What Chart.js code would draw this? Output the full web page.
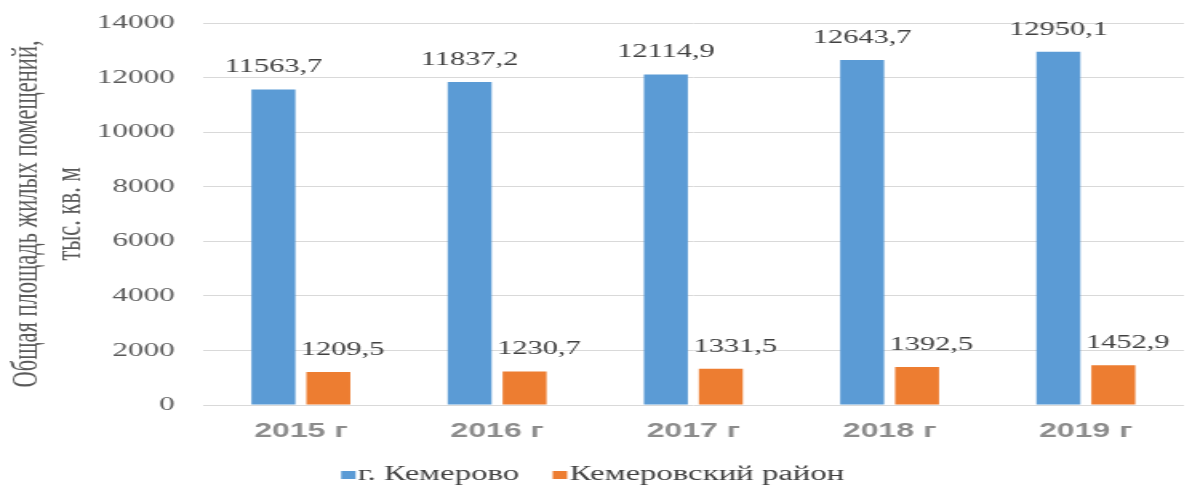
<!DOCTYPE html>
<html lang="ru">
<head>
<meta charset="utf-8">
<title>Общая площадь жилых помещений</title>
<script src="https://cdn.jsdelivr.net/npm/chart.js@4/dist/chart.umd.min.js"></script>
<style>
    html, body { margin: 0; padding: 0; background: #fff; overflow: hidden; }
    /* the chart is laid out narrow and widened, so the lettering comes out stretched */
    #wrap { width: 741px; height: 488px; transform: scaleX(1.6); transform-origin: 0 0; }
</style>
</head>
<body>
<div id="wrap"><canvas id="areaChart" width="741" height="488"></canvas></div>
<script>
const years = ['2015 г', '2016 г', '2017 г', '2018 г', '2019 г'];
const kemerovoCity = [11563.7, 11837.2, 12114.9, 12643.7, 12950.1];
const kemerovoDistrict = [1209.5, 1230.7, 1331.5, 1392.5, 1452.9];
const yMax = 14000;
const yStep = 2000;

// numbers over the bars, with a comma as decimal separator
const valueLabels = {
    id: 'valueLabels',
    afterDatasetsDraw(chart) {
        const ctx = chart.ctx;
        ctx.save();
        ctx.font = '19px "Liberation Serif"';
        ctx.fillStyle = '#404040';
        ctx.textAlign = 'center';
        ctx.textBaseline = 'alphabetic';
        chart.data.datasets.forEach((ds, i) => {
            const meta = chart.getDatasetMeta(i);
            meta.data.forEach((bar, j) => {
                const txt = ds.data[j].toFixed(1).replace('.', ',');
                const shift = i === 1 ? 9 : 0;
                ctx.fillText(txt, bar.x + shift, bar.y - 17);
            });
        });
        ctx.restore();
    }
};

// legend with the small square sitting right next to its text
const bottomLegend = {
    id: 'bottomLegend',
    afterDraw(chart) {
        const ctx = chart.ctx;
        const box = 9, gap = 1.5, spacing = 21;
        ctx.save();
        ctx.font = '20.5px "Liberation Serif"';
        ctx.textBaseline = 'middle';
        ctx.textAlign = 'left';
        const items = chart.data.datasets.map(ds => ({
            text: ds.label,
            color: ds.backgroundColor,
            w: ctx.measureText(ds.label).width
        }));
        const total = items.reduce((s, it) => s + box + gap + it.w, 0) + spacing * (items.length - 1);
        let x = (chart.width - total) / 2;
        const y = chart.height - 13;
        items.forEach(it => {
            ctx.fillStyle = it.color;
            ctx.fillRect(x, y - 4, box, 8);
            x += box + gap;
            ctx.fillStyle = '#404040';
            ctx.fillText(it.text, x, y);
            x += it.w + spacing;
        });
        ctx.restore();
    }
};

document.addEventListener('DOMContentLoaded', function() {
    const ctx = document.getElementById('areaChart');
    new Chart(ctx, {
        type: 'bar',
        data: {
            labels: years,
            datasets: [{
                label: 'г. Кемерово',
                data: kemerovoCity,
                backgroundColor: '#5b9bd5',
                barPercentage: 0.8,
                categoryPercentage: 0.56
            }, {
                label: 'Кемеровский район',
                data: kemerovoDistrict,
                backgroundColor: '#ed7d31',
                barPercentage: 0.8,
                categoryPercentage: 0.56
            }]
        },
        options: {
            responsive: false,
            animation: false,
            devicePixelRatio: 1,
            layout: { padding: { left: 4, right: 1, top: 0, bottom: 0 } },
            plugins: {
                tooltip: { enabled: false },
                legend: { display: false }
            },
            scales: {
                x: {
                    grid: { display: false, drawTicks: false },
                    border: { display: false },
                    ticks: {
                        font: { family: '"Liberation Sans"', size: 20, weight: 'bold' },
                        color: '#8c8c8c',
                        padding: 14
                    },
                    // leave room underneath for the legend
                    afterFit(scale) { scale.height = 83; }
                },
                y: {
                    min: 0,
                    max: yMax,
                    ticks: {
                        stepSize: yStep,
                        callback: (v) => String(v),
                        font: { family: '"Liberation Serif"', size: 19.5 },
                        color: '#595959',
                        padding: 17.5
                    },
                    grid: { color: '#d9d9d9', lineWidth: 1, drawTicks: false },
                    border: { display: false },
                    title: {
                        display: true,
                        text: ['Общая площадь жилых помещений,', 'тыс. кв. м'],
                        font: { family: '"Liberation Serif"', size: 22.5 },
                        color: '#595959',
                        padding: { top: 0, bottom: -15 }
                    },
                    // tick padding would otherwise push the top gridline down
                    afterFit(scale) { scale.paddingTop = 23; }
                }
            }
        },
        plugins: [valueLabels, bottomLegend]
    });
});
</script>
</body>
</html>
